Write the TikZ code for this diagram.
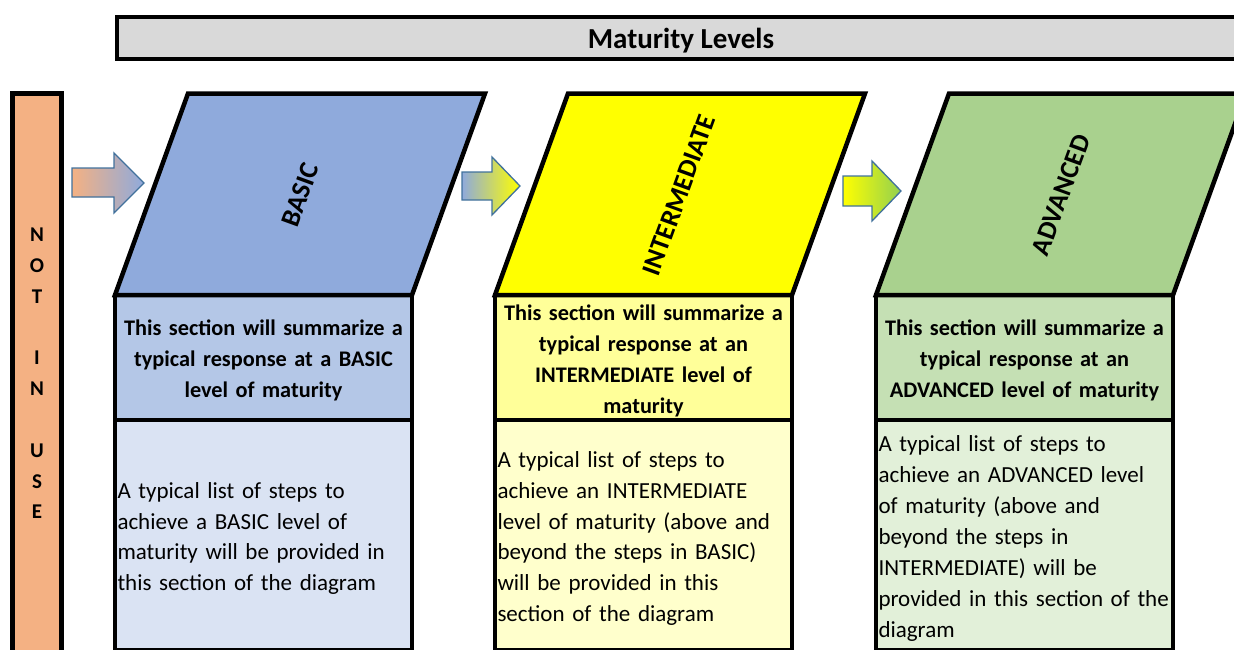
\documentclass[tikz,border=0pt]{standalone}
\usepackage{fontspec}
\setmainfont{Carlito}
\usetikzlibrary{positioning}

\definecolor{titlegray}{HTML}{D9D9D9}
\definecolor{nouseorange}{HTML}{F4B183}
\definecolor{basictop}{HTML}{8FAADC}
\definecolor{basichead}{HTML}{B4C7E7}
\definecolor{basicbody}{HTML}{DAE3F3}
\definecolor{intertop}{HTML}{FFFF00}
\definecolor{interhead}{HTML}{FFFF99}
\definecolor{interbody}{HTML}{FFFFCC}
\definecolor{advtop}{HTML}{A9D18E}
\definecolor{advhead}{HTML}{C5E0B4}
\definecolor{advbody}{HTML}{E2F0D9}
\definecolor{advgreen}{HTML}{92D050}
\definecolor{arrowline}{HTML}{41719C}

\begin{document}
\begin{tikzpicture}[x=1pt,y=-1pt]

    \tikzset{frame/.style={draw=black,line width=4.5pt,outer sep=0pt,inner sep=0pt},
             headbox/.style={frame,minimum width=297pt,minimum height=125pt,text width=292pt,align=center,
                             execute at begin node={\rule{0pt}{22pt}},font=\fontsize{22.3}{31}\selectfont\bfseries},
             bodybox/.style={frame,minimum width=297pt,minimum height=230pt,text width=292pt,align=left,
                             execute at begin node={\rule{0pt}{23pt}},font=\fontsize{23}{30.9}\selectfont},
             levelname/.style={rotate=70,font=\fontsize{27}{30}\selectfont\bfseries},
             stepper/.style={draw=arrowline,line width=1.3pt}}

    \useasboundingbox (0,0) rectangle (1234,649);
    \clip (0,0) rectangle (1234,649);

    \node[frame,fill=titlegray,minimum width=1128pt,minimum height=42pt,text depth=0pt,
          font=\fontsize{29}{32}\selectfont\bfseries] (title) at (681,38) {Maturity Levels};

    \node[frame,fill=nouseorange,minimum width=49pt,minimum height=560pt,align=center,
          font=\fontsize{21}{30.8}\selectfont\bfseries] (nouse) at (37,373.5)
          {N\\O\\T\\[30.8pt]I\\N\\[30.8pt]U\\S\\E};

    % BASIC
    \node[headbox,fill=basichead] (hd1) at (263.5,357.5)
          {This section will summarize a\\typical response at a BASIC\\level of maturity};
    \node[bodybox,fill=basicbody,below=0pt of hd1] (bd1)
          {A typical list of steps to\\achieve a BASIC level of\\maturity will be provided in\\this section of the diagram};
    \draw[frame,fill=basictop] (hd1.north west) -- ++(73,-201.5) -- ++(297,0) -- (hd1.north east) -- cycle;
    \node[levelname] (nm1) at (300,195) {BASIC};

    % INTERMEDIATE
    \node[headbox,fill=interhead] (hd2) at (643.5,357.5)
          {This section will summarize a\\typical response at an\\INTERMEDIATE level of\\maturity};
    \node[bodybox,fill=interbody,below=0pt of hd2] (bd2)
          {A typical list of steps to\\achieve an INTERMEDIATE\\level of maturity (above and\\beyond the steps in BASIC)\\will be provided in this\\section of the diagram};
    \draw[frame,fill=intertop] (hd2.north west) -- ++(73,-201.5) -- ++(297,0) -- (hd2.north east) -- cycle;
    \node[levelname] (nm2) at (679,195) {INTERMEDIATE};

    % ADVANCED
    \node[headbox,fill=advhead] (hd3) at (1024.5,357.5)
          {This section will summarize a\\typical response at an\\ADVANCED level of maturity};
    \node[bodybox,fill=advbody,below=0pt of hd3] (bd3)
          {A typical list of steps to\\achieve an ADVANCED level\\of maturity (above and\\beyond the steps in\\INTERMEDIATE) will be\\provided in this section of the\\diagram};
    \draw[frame,fill=advtop] (hd3.north west) -- ++(73,-201.5) -- ++(297,0) -- (hd3.north east) -- cycle;
    \node[levelname] (nm3) at (1061,195) {ADVANCED};

    % block arrows
    \path[stepper,left color=nouseorange,right color=basictop]
        (72,168) -- (114,168) -- (114,153) -- (144,183) -- (114,213) -- (114,197) -- (72,197) -- cycle;
    \path[stepper,left color=basictop,right color=intertop]
        (462,172) -- (492,172) -- (492,157) -- (520,186) -- (492,215) -- (492,200) -- (462,200) -- cycle;
    \path[stepper,left color=intertop,right color=advgreen]
        (843,176) -- (872,176) -- (872,161) -- (901,191) -- (872,221) -- (872,206) -- (843,206) -- cycle;

\end{tikzpicture}
\end{document}
